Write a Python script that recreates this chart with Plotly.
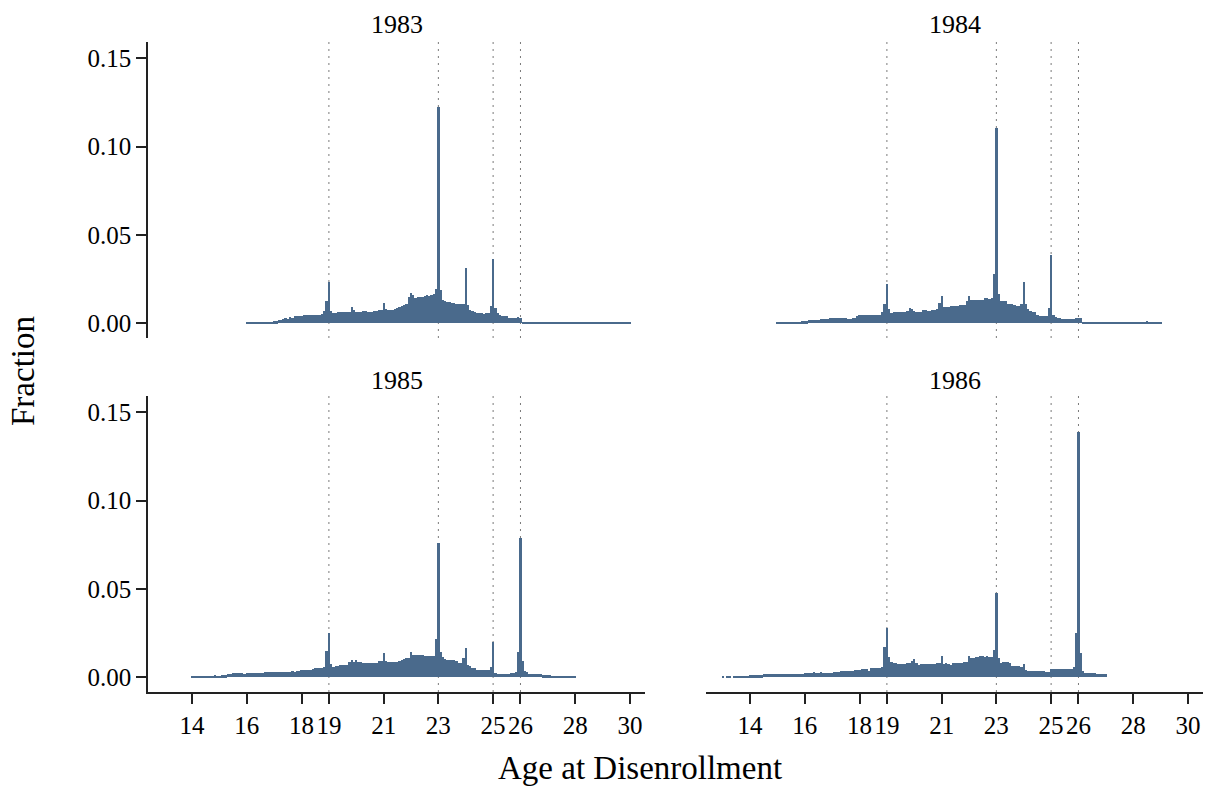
import plotly.graph_objects as go

# Monthly fractions (per mille), one row per year of age, first bin centred at the start age
start_1983 = 16.0
frac_1983 = [
    [0.8, 0.4, 0.4, 0.4, 0.4, 0.4, 0.4, 0.4, 0.4, 0.5, 0.5, 0.6],          # 16
    [1.1, 1.1, 1.5, 1.5, 2.0, 2.8, 2.4, 3.4, 3.0, 4.0, 4.0, 4.0],          # 17
    [4.0, 4.5, 4.3, 4.5, 4.3, 4.4, 4.6, 4.5, 4.8, 5.0, 6.8, 12.7],         # 18
    [23.0, 6.8, 5.8, 5.7, 6.0, 6.0, 6.0, 6.2, 6.5, 6.3, 9.0, 7.5],         # 19
    [6.0, 6.4, 6.4, 6.6, 6.6, 6.4, 6.3, 6.4, 6.6, 6.8, 7.2, 7.5],          # 20
    [11.3, 8.2, 7.4, 7.4, 7.4, 7.9, 8.4, 8.8, 9.4, 10.0, 10.5, 15.0],      # 21
    [16.8, 15.8, 14.3, 14.6, 14.6, 14.8, 15.5, 15.9, 15.2, 16.0, 16.4, 19.0],  # 22
    [122.7, 18.7, 12.8, 12.5, 12.0, 11.8, 11.4, 11.2, 11.0, 10.8, 10.8, 10.8],  # 23
    [31.0, 10.0, 7.4, 6.8, 6.2, 5.6, 5.5, 5.5, 5.3, 5.8, 5.5, 9.7],        # 24
    [36.4, 8.3, 5.5, 4.8, 4.2, 4.0, 3.8, 2.8, 2.7, 2.6, 2.6, 3.2],         # 25
    [2.7, 0.6, 0.6, 0.6, 0.6, 0.5, 0.6, 0.6, 0.6, 0.6, 0.5, 0.6],          # 26
    [0.5, 0.5, 0.6, 0.5, 0.5, 0.5, 0.5, 0.6, 0.5, 0.5, 0.5, 0.5],          # 27
    [0.5, 0.5, 0.5, 0.5, 0.5, 0.5, 0.5, 0.5, 0.5, 0.5, 0.5, 0.5],          # 28
    [0.5, 0.5, 0.5, 0.5, 0.4, 0.5, 0.5, 0.5, 0.4, 0.5, 0.4, 0.4],          # 29
    [0.4],                                                                 # 30
]

start_1984 = 15.0
frac_1984 = [
    [0.5, 0.6, 0.6, 0.6, 0.6, 0.6, 0.6, 0.6, 0.6, 0.6, 0.6, 1.0],          # 15
    [1.0, 1.0, 1.7, 1.7, 1.7, 1.7, 1.7, 2.3, 2.3, 2.3, 2.3, 2.8],          # 16
    [2.8, 2.8, 2.8, 2.8, 2.8, 2.8, 2.8, 2.3, 2.3, 2.8, 2.8, 3.8],          # 17
    [4.7, 4.7, 4.7, 4.7, 4.7, 4.7, 4.7, 4.7, 4.7, 4.8, 6.4, 10.8],         # 18
    [22.2, 8.0, 5.5, 6.2, 6.2, 6.2, 6.2, 6.2, 6.4, 6.7, 8.3, 7.8],         # 19
    [7.0, 6.2, 6.2, 6.4, 7.2, 7.2, 6.8, 6.8, 7.6, 7.6, 7.8, 11.3],         # 20
    [15.3, 9.0, 8.8, 9.0, 9.6, 9.6, 9.6, 9.6, 10.2, 10.2, 10.4, 12.3],     # 21
    [15.1, 12.8, 12.8, 12.8, 12.8, 13.2, 13.0, 14.0, 14.0, 13.6, 14.0, 28.0],  # 22
    [110.8, 16.5, 12.5, 12.2, 12.2, 11.0, 10.8, 10.5, 10.2, 9.8, 9.6, 10.8],   # 23
    [23.0, 10.8, 8.0, 7.0, 6.5, 6.0, 4.5, 4.0, 4.0, 4.0, 4.0, 8.3],        # 24
    [38.6, 4.5, 3.2, 2.8, 2.7, 2.5, 2.5, 2.5, 2.5, 2.5, 2.5, 3.0],         # 25
    [3.0, 3.0, 0.6, 0.6, 0.6, 0.6, 0.6, 0.6, 0.6, 0.6, 0.6, 0.6],          # 26
    [0.6, 0.6, 0.6, 0.6, 0.6, 0.6, 0.6, 0.6, 0.6, 0.6, 0.6, 0.6],          # 27
    [0.6, 0.6, 0.6, 0.6, 0.6, 0.6, 1.0, 0.6, 0.6, 0.6, 0.6, 0.6],          # 28
    [0.5],                                                                 # 29
]

start_1985 = 14.0
frac_1985 = [
    [0.4, 0.4, 0.4, 0.4, 0.4, 0.4, 0.4, 0.4, 0.4, 0.5, 1.0, 0.7],          # 14
    [0.3, 1.0, 1.0, 1.0, 1.5, 1.5, 2.0, 2.0, 2.0, 2.0, 2.0, 1.5],          # 15
    [2.0, 2.0, 2.0, 2.0, 2.0, 2.0, 2.0, 2.0, 2.6, 2.6, 2.6, 2.6],          # 16
    [2.6, 2.6, 2.6, 2.6, 2.6, 2.6, 2.6, 2.6, 3.2, 2.8, 3.6, 3.6],          # 17
    [4.2, 4.2, 4.0, 4.2, 4.2, 4.6, 5.0, 5.0, 5.0, 5.0, 5.7, 15.0],         # 18
    [25.0, 7.4, 5.7, 6.3, 6.3, 6.8, 6.8, 6.8, 6.8, 8.3, 9.7, 8.5],         # 19
    [9.7, 8.5, 8.5, 8.2, 8.0, 8.0, 8.0, 8.0, 8.0, 8.0, 9.0, 9.0],          # 20
    [13.4, 9.0, 8.5, 8.5, 8.5, 8.5, 8.5, 8.8, 9.7, 10.0, 11.0, 11.0],      # 21
    [14.0, 12.3, 12.3, 12.3, 12.3, 12.2, 12.0, 12.0, 12.0, 12.0, 12.0, 21.4],  # 22
    [76.1, 14.4, 11.3, 10.0, 9.7, 9.7, 9.7, 9.7, 9.0, 8.0, 8.0, 11.0],     # 23
    [16.5, 6.8, 6.0, 5.0, 5.0, 4.2, 4.2, 4.2, 4.2, 4.2, 4.2, 5.8],         # 24
    [20.0, 2.0, 1.5, 1.5, 1.5, 1.5, 1.5, 1.5, 2.3, 2.3, 3.0, 14.4],        # 25
    [79.0, 9.0, 3.4, 2.6, 1.8, 1.7, 1.7, 1.7, 1.7, 1.7, 1.1, 1.1],         # 26
    [1.1, 1.1, 0.4, 0.4, 0.4, 0.8, 0.8, 0.6, 0.6, 0.6, 0.6, 0.6],          # 27
    [0.6],                                                                 # 28
]

start_1986 = 13.0
frac_1986 = [
    [0.4, 0.0, 0.4, 0.4, 0.0, 0.4, 0.4, 0.4, 0.4, 0.4, 0.4, 0.3],          # 13
    [1.0, 1.0, 1.0, 1.0, 1.0, 1.0, 1.7, 1.5, 1.5, 1.5, 1.5, 1.5],          # 14
    [1.5, 1.5, 1.5, 1.5, 1.5, 1.5, 1.5, 1.5, 1.5, 1.5, 1.5, 1.5],          # 15
    [2.3, 2.3, 2.3, 2.3, 2.8, 2.3, 2.3, 2.8, 2.3, 2.3, 2.3, 2.3],          # 16
    [2.3, 2.8, 2.8, 2.8, 3.4, 3.4, 3.4, 3.4, 3.4, 3.4, 4.0, 4.0],          # 17
    [4.0, 4.5, 4.5, 4.5, 3.6, 5.0, 5.0, 5.0, 5.0, 5.0, 5.9, 17.0],         # 18
    [27.8, 11.3, 8.7, 8.0, 8.0, 7.4, 7.4, 7.4, 7.4, 8.0, 8.0, 9.0],        # 19
    [10.0, 8.0, 6.8, 7.4, 7.4, 7.4, 7.4, 7.4, 7.4, 7.4, 8.0, 8.0],         # 20
    [11.9, 7.4, 8.0, 7.4, 6.8, 8.0, 8.0, 8.0, 8.0, 8.0, 8.5, 8.5],         # 21
    [11.9, 11.0, 11.0, 11.3, 11.3, 11.9, 11.9, 11.3, 11.9, 11.3, 11.3, 15.3],  # 22
    [47.6, 11.0, 8.0, 8.5, 8.5, 8.5, 8.0, 6.3, 6.3, 6.3, 6.3, 5.7],        # 23
    [7.2, 4.0, 3.4, 3.4, 3.4, 3.4, 3.4, 3.4, 3.4, 3.4, 3.0, 3.0],          # 24
    [4.5, 4.5, 4.5, 4.5, 4.5, 4.5, 4.5, 4.5, 4.5, 4.5, 5.7, 25.0],         # 25
    [139.0, 13.6, 3.4, 2.3, 2.3, 2.3, 2.3, 2.3, 1.7, 1.7, 1.7, 1.7],       # 26
    [1.7],                                                                 # 27
]

panel_titles = ["1983", "1984", "1985", "1986"]
x_tickvals = [14, 16, 18, 19, 21, 23, 25, 26, 28, 30]
y_tickvals = [0.0, 0.05, 0.10, 0.15]
y_ticktext = ["0.00", "0.05", "0.10", "0.15"]
ref_ages = [19, 23, 25, 26]

BAR = "#4a6a8c"
FONT = "Liberation Serif"
AX = "#222222"

panels = [
    (start_1983, frac_1983),
    (start_1984, frac_1984),
    (start_1985, frac_1985),
    (start_1986, frac_1986),
]

fig = go.Figure()
for k, (start, rows) in enumerate(panels):
    vals = [v / 1000.0 for row in rows for v in row]
    xs = [start + i / 12.0 for i in range(len(vals))]
    suffix = "" if k == 0 else str(k + 1)
    fig.add_trace(go.Bar(
        x=xs, y=vals, width=1 / 12.0,
        marker=dict(color=BAR, line=dict(width=0)),
        xaxis="x" + suffix, yaxis="y" + suffix,
        showlegend=False, hoverinfo="skip",
    ))

# layout geometry (pixels)
W, H = 1206, 788
L, R, T, B = 148, 3, 42, 96
pw, ph = W - L - R, H - T - B
xl = [0, (645 - L) / pw]
xr = [(706 - L) / pw, 1]
yt = [(692 - 338) / ph, 1]
yb = [0, (692 - 396) / ph]

xrange = [12.39, 30.55]
yrange = [-0.0085, 0.1593]

def xax(domain, bottom, anchor):
    d = dict(domain=domain, range=xrange, anchor=anchor, showgrid=False, zeroline=False)
    if bottom:
        d.update(showline=True, linecolor=AX, linewidth=1.5, ticks="outside", ticklen=10,
                 tickwidth=1.5, tickcolor=AX, tickvals=x_tickvals,
                 tickfont=dict(family=FONT, size=25, color="black"))
    else:
        d.update(showline=False, ticks="", showticklabels=False)
    return d

def yax(domain, left, anchor):
    d = dict(domain=domain, range=yrange, anchor=anchor, showgrid=False, zeroline=False)
    if left:
        d.update(showline=True, linecolor=AX, linewidth=1.5, ticks="outside", ticklen=10,
                 tickwidth=1.5, tickcolor=AX, tickvals=y_tickvals, ticktext=y_ticktext,
                 tickfont=dict(family=FONT, size=25, color="black"))
    else:
        d.update(showline=False, ticks="", showticklabels=False)
    return d

fig.update_layout(
    width=W, height=H,
    margin=dict(l=L, r=R, t=T, b=B),
    paper_bgcolor="white", plot_bgcolor="white",
    bargap=0,
    font=dict(family=FONT, color="black"),
    xaxis=xax(xl, False, "y"), yaxis=yax(yt, True, "x"),
    xaxis2=xax(xr, False, "y2"), yaxis2=yax(yt, False, "x2"),
    xaxis3=xax(xl, True, "y3"), yaxis3=yax(yb, True, "x3"),
    xaxis4=xax(xr, True, "y4"), yaxis4=yax(yb, False, "x4"),
)

shapes = []
for k in range(4):
    suffix = "" if k == 0 else str(k + 1)
    for a in ref_ages:
        shapes.append(dict(type="line", xref="x" + suffix, yref="y" + suffix + " domain",
                           x0=a, x1=a, y0=0, y1=1, layer="below",
                           line=dict(color="#7a7a7a", width=1, dash="2px,5px")))
fig.update_layout(shapes=shapes)

def px2paper_x(px):
    return (px - L) / pw

def px2paper_y(py):
    return (H - B - py) / ph

title_pos = [(396.5, 25), (954.5, 25), (396.5, 380), (954.5, 380)]
ann = []
for t, (px, py) in zip(panel_titles, title_pos):
    ann.append(dict(text=t, x=px2paper_x(px), y=px2paper_y(py), xref="paper", yref="paper",
                    showarrow=False, xanchor="center", yanchor="middle",
                    font=dict(family=FONT, size=26, color="black")))
ann.append(dict(text="Age at Disenrollment", x=px2paper_x(640), y=px2paper_y(768),
                xref="paper", yref="paper", showarrow=False, xanchor="center", yanchor="middle",
                font=dict(family=FONT, size=33, color="black")))
ann.append(dict(text="Fraction", x=px2paper_x(23), y=px2paper_y(371), textangle=-90,
                xref="paper", yref="paper", showarrow=False, xanchor="center", yanchor="middle",
                font=dict(family=FONT, size=33, color="black")))
fig.update_layout(annotations=ann)

fig.write_html("out.html")
